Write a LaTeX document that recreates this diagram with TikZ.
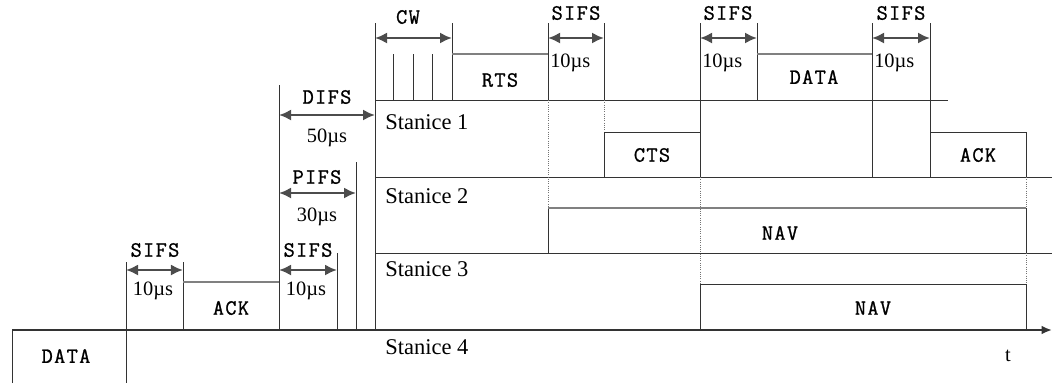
\documentclass[tikz,border=0pt]{standalone}
\usepackage{fontspec}
\setmainfont{Liberation Serif}
\newfontfamily\framefont[LetterSpace=6,FakeBold=1]{Latin Modern Mono}
\usetikzlibrary{arrows.meta}

\begin{document}
\begin{tikzpicture}[
  x=0.025cm, y=-0.025cm,
  line/.style={draw=black!80, line width=0.7pt},
  boxtop/.style={draw=black!50, line width=1.1pt},
  gap/.style={{Latex[length=3mm,width=2.8mm]}-{Latex[length=3mm,width=2.8mm]}, draw=black!70, line width=1.9pt},
  dotline/.style={draw=black!55, densely dotted, line width=0.6pt},
  frame/.style={font=\framefont\fontsize{15.5}{15.5}\selectfont, inner sep=0pt},
  dur/.style={font=\fontsize{14.5}{14.5}\selectfont, inner sep=0pt},
  sta/.style={font=\fontsize{16}{16}\selectfont, inner sep=0pt, anchor=west}
]
\useasboundingbox (0,0) rectangle (1052,383);

% time axis and first DATA frame
\coordinate (t0) at (12,330);
\coordinate (tend) at (1052,330);
\draw[line, line width=1.4pt, -{Latex[length=2.6mm,width=2.2mm]}] (t0) -- (tend);
\draw[line] (12,383) -- (t0);
\draw[line] (126,262) -- (126,383);
\node[frame] (data0) at (66,356) {DATA};

% SIFS + ACK
\draw[line] (183,262) -- (183,330);
\draw[gap] (126,270) -- (183,270);
\node[frame] (sifs0) at (155,250) {SIFS};
\node[dur] (us0) at (153,291) {10µs};
\draw[boxtop] (183,282) -- (279,282);
\node[frame] (ack0) at (231,308) {ACK};

% interframe spaces
\draw[line] (279,85) -- (279,330);
\draw[line] (337,253) -- (337,330);
\draw[line] (356,162) -- (356,330);
\draw[line] (375,23) -- (375,330);
\draw[gap] (279,115) -- (375,115);
\node[frame] (difs) at (327,97) {DIFS};
\node[dur] (us50) at (327,138) {50µs};
\draw[gap] (279,193) -- (356,193);
\node[frame] (pifs) at (317,177) {PIFS};
\node[dur] (us30) at (317,217) {30µs};
\draw[gap] (279,270) -- (337,270);
\node[frame] (sifs1) at (308,250) {SIFS};
\node[dur] (us1) at (306,291) {10µs};

% Stanice 1
\draw[line] (375,100) -- (948,100);
\foreach \x in {393,413,432} \draw[line] (\x,54) -- (\x,100);
\draw[line] (452,23) -- (452,100);
\draw[gap] (375,38) -- (452,38);
\node[frame] (cw) at (408,17) {CW};
\draw[boxtop] (452,54) -- (548,54);
\node[frame] (rts) at (500,80) {RTS};
\draw[line] (548,23) -- (548,100);
\draw[line] (604,23) -- (604,100);
\draw[gap] (548,38) -- (604,38);
\node[frame] (sifs2) at (576,13) {SIFS};
\node[dur, anchor=west] (us2) at (550,63) {10µs};
\draw[line] (700,23) -- (700,177);
\draw[line] (757,23) -- (757,100);
\draw[gap] (700,38) -- (757,38);
\node[frame] (sifs3) at (728,13) {SIFS};
\node[dur, anchor=west] (us3) at (702,63) {10µs};
\draw[boxtop] (757,54) -- (872,54);
\node[frame] (data1) at (814,77) {DATA};
\draw[line] (872,23) -- (872,177);
\draw[line] (930,23) -- (930,177);
\draw[gap] (872,38) -- (930,38);
\node[frame] (sifs4) at (901,13) {SIFS};
\node[dur, anchor=west] (us4) at (874,63) {10µs};
\node[sta] (st1) at (385,122) {Stanice 1};

% CTS and ACK
\draw[dotline] (604,100) -- (604,132);
\draw[line] (604,177) -- (604,132) -- (700,132);
\node[frame] (cts) at (652,155) {CTS};
\draw[line] (930,132) -- (1026,132) -- (1026,177);
\node[frame] (ack1) at (978,155) {ACK};

% Stanice 2
\draw[line] (375,177) -- (1052,177);
\node[sta] (st2) at (385,196) {Stanice 2};
\draw[dotline] (548,100) -- (548,208);
\draw[line] (548,253) -- (548,208);
\draw[boxtop] (548,208) -- (1026,208);
\draw[line] (1026,208) -- (1026,253);
\node[frame] (nav2) at (780,233) {NAV};

% Stanice 3
\draw[line] (375,253) -- (1052,253);
\node[sta] (st3) at (385,269) {Stanice 3};
\draw[dotline] (700,177) -- (700,284);
\draw[dotline] (1026,177) -- (1026,208);
\draw[dotline] (1026,253) -- (1026,284);
\draw[line] (700,330) -- (700,284) -- (1026,284) -- (1026,330);
\node[frame] (nav3) at (873,308) {NAV};

% Stanice 4
\node[sta] (st4) at (385,347) {Stanice 4};
\node[dur] (t) at (1008,356) {t};
\end{tikzpicture}
\end{document}
